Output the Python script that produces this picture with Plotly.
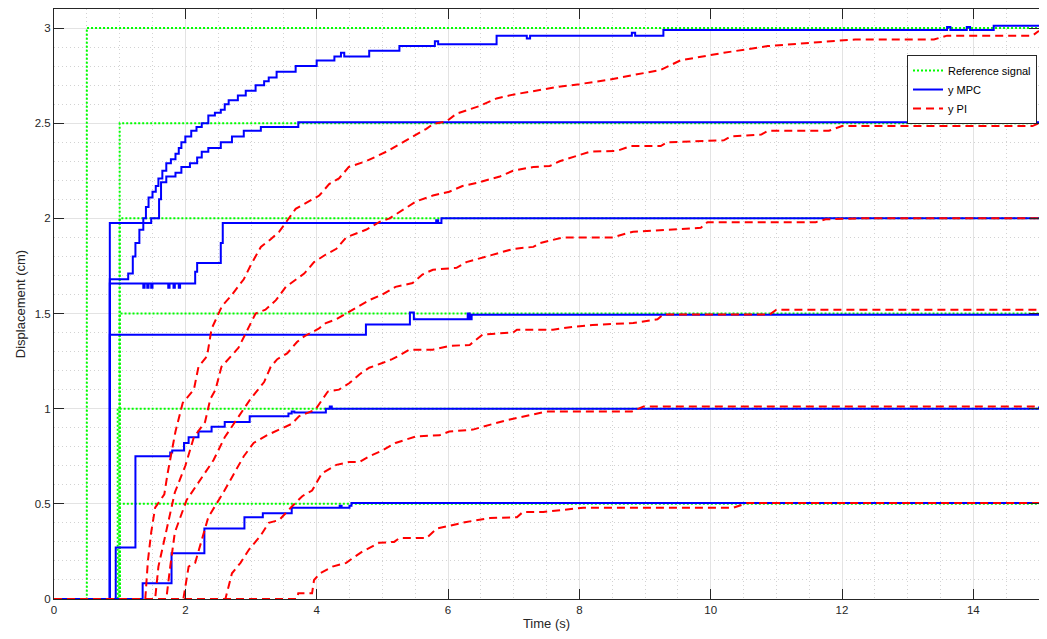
import plotly.graph_objects as go

# ---------------- data ----------------
ref_levels = [3.0, 2.5, 2.0, 1.5, 1.0, 0.5]
ref_step_times = [0.5, 1.0, 1.0, 1.0, 0.97, 1.0]
t_end = 15.0

# MPC responses (staircase, value holds from t[i])
mpc_3_t = [0, 0.85, 1.13, 1.2, 1.24, 1.3, 1.36, 1.4, 1.44, 1.5, 1.55, 1.59, 1.65, 1.71, 1.78, 1.85, 1.9, 1.94, 2.0,
           2.09, 2.17, 2.25, 2.35, 2.45, 2.54, 2.6, 2.66, 2.8, 2.92, 3.07, 3.2, 3.27, 3.39, 3.68, 4.0, 4.27, 4.37,
           4.42, 4.8, 5.26, 5.8, 5.85, 6.74, 7.2, 7.25, 8.8, 8.85, 9.28, 13.6, 13.65, 13.9, 13.95, 14.31, 15]
mpc_3_y = [0, 1.68, 1.71, 1.80, 1.87, 1.94, 2.0, 2.06, 2.11, 2.14, 2.17, 2.21, 2.25, 2.29, 2.31, 2.34, 2.37, 2.40, 2.43,
           2.46, 2.48, 2.50, 2.54, 2.555, 2.57, 2.60, 2.62, 2.645, 2.67, 2.70, 2.72, 2.74, 2.77, 2.80, 2.83, 2.85, 2.87,
           2.85, 2.88, 2.905, 2.93, 2.915, 2.96, 2.945, 2.96, 2.975, 2.96, 2.99, 3.005, 2.99, 3.005, 2.99, 3.012, 3.012]

mpc_25_t = [0, 0.85, 1.48, 1.6, 1.63, 1.71, 1.85, 1.94, 2.07, 2.18, 2.25, 2.35, 2.54, 2.71, 2.89, 3.15, 3.72, 15]
mpc_25_y = [0, 1.975, 2.0, 2.10, 2.19, 2.22, 2.24, 2.27, 2.29, 2.32, 2.35, 2.37, 2.40, 2.43, 2.46, 2.48, 2.505, 2.505]

mpc_2_t = [0, 0.85, 1.36, 1.38, 1.42, 1.44, 1.48, 1.5, 1.74, 1.76, 1.82, 1.84, 1.9, 1.92, 2.15, 2.18, 2.54, 2.57,
           5.82, 5.85, 5.9, 15]
mpc_2_y = [0, 1.658, 1.635, 1.658, 1.635, 1.658, 1.635, 1.658, 1.635, 1.658, 1.635, 1.658, 1.635, 1.658, 1.72, 1.765,
           1.87, 1.975, 1.99, 1.975, 2.0, 2.0]

mpc_15_t = [0, 0.85, 4.75, 5.42, 5.48, 6.3, 6.33, 6.36, 15]
mpc_15_y = [0, 1.389, 1.442, 1.505, 1.47, 1.5, 1.47, 1.493, 1.493]

mpc_1_t = [0, 0.94, 1.24, 1.77, 1.8, 1.98, 2.05, 2.2, 2.4, 2.6, 2.98, 3.57, 3.62, 3.66, 4.14, 4.2, 4.23, 15]
mpc_1_y = [0, 0.27, 0.75, 0.77, 0.78, 0.82, 0.85, 0.88, 0.905, 0.93, 0.96, 0.975, 0.985, 0.98, 1.0, 1.012, 1.0, 1.012]

mpc_05_t = [0, 1.35, 1.79, 2.29, 2.9, 3.18, 3.62, 4.35, 4.38, 4.5, 4.53, 15]
mpc_05_y = [0, 0.083, 0.24, 0.37, 0.43, 0.45, 0.48, 0.49, 0.48, 0.49, 0.505, 0.505]

# PI responses
pi_3_t = [0, 1.39, 1.43, 1.48, 1.54, 1.68, 1.73, 1.79, 1.85, 1.96, 2.13, 2.2, 2.33, 2.4, 2.56, 2.69, 2.89, 2.99,
          3.15, 3.3, 3.43, 3.68, 3.88, 4.04, 4.19, 4.34, 4.49, 4.75, 5.06, 5.36, 5.67, 5.77, 5.98, 6.13, 6.48, 6.74,
          6.99, 7.66, 8.0, 8.47, 9.24, 9.54, 10.2, 10.87, 11.6, 12.2, 13.4, 13.6, 14.9, 15]
pi_3_y = [0, 0, 0.2, 0.35, 0.48, 0.55, 0.66, 0.78, 0.88, 1.03, 1.10, 1.22, 1.275, 1.42, 1.54, 1.59, 1.68, 1.75,
          1.85, 1.89, 1.93, 2.05, 2.09, 2.12, 2.18, 2.21, 2.27, 2.30, 2.35, 2.41, 2.47, 2.495, 2.51, 2.55, 2.59, 2.63,
          2.65, 2.69, 2.705, 2.73, 2.78, 2.83, 2.87, 2.905, 2.925, 2.94, 2.94, 2.96, 2.96, 2.985]

pi_25_t = [0, 1.54, 1.59, 1.72, 1.84, 2.0, 2.13, 2.3, 2.38, 2.46, 2.55, 2.81, 2.94, 3.07, 3.22, 3.38, 3.53, 3.81,
           3.96, 4.14, 4.3, 4.45, 4.75, 4.95, 5.11, 5.37, 5.52, 5.77, 6.02, 6.22, 6.48, 6.79, 6.99, 7.3, 7.55, 7.7,
           7.97, 8.16, 8.58, 8.78, 9.24, 9.34, 10.2, 10.3, 10.77, 10.87, 11.8, 12.0, 14.9, 15]
pi_25_y = [0, 0, 0.17, 0.38, 0.56, 0.70, 0.85, 0.93, 1.05, 1.10, 1.22, 1.32, 1.41, 1.50, 1.52, 1.57, 1.64, 1.71,
           1.77, 1.81, 1.84, 1.90, 1.94, 1.98, 2.0, 2.06, 2.09, 2.12, 2.14, 2.17, 2.19, 2.22, 2.25, 2.27, 2.275, 2.30,
           2.33, 2.35, 2.355, 2.38, 2.38, 2.40, 2.41, 2.43, 2.44, 2.46, 2.46, 2.485, 2.485, 2.5]

pi_2_t = [0, 1.71, 1.77, 1.84, 2.02, 2.25, 2.43, 2.6, 2.8, 2.99, 3.2, 3.3, 3.4, 3.55, 3.7, 3.81, 4.03, 4.14, 4.3,
          4.4, 4.55, 4.8, 5.0, 5.2, 5.46, 5.61, 5.77, 6.13, 6.28, 6.48, 6.79, 7.0, 7.3, 7.4, 7.75, 8.5, 8.82, 9.34,
          9.85, 9.95, 11.6, 11.75, 12.3, 15]
pi_2_y = [0, 0, 0.17, 0.35, 0.52, 0.64, 0.73, 0.85, 0.95, 1.05, 1.14, 1.22, 1.26, 1.29, 1.35, 1.38, 1.42, 1.45, 1.47,
          1.49, 1.52, 1.57, 1.60, 1.64, 1.66, 1.705, 1.73, 1.74, 1.77, 1.79, 1.82, 1.84, 1.85, 1.87, 1.90, 1.90, 1.93,
          1.94, 1.95, 1.98, 1.98, 1.995, 2.0, 2.0]

pi_15_t = [0, 1.97, 2.05, 2.15, 2.25, 2.35, 2.58, 2.74, 2.89, 3.04, 3.24, 3.62, 3.73, 3.98, 4.17, 4.34, 4.5, 4.65,
           4.8, 5.0, 5.15, 5.26, 5.41, 5.77, 6.02, 6.33, 6.53, 6.99, 7.05, 7.6, 7.9, 8.2, 8.82, 9.19, 9.28, 10.9, 11.0, 15]
pi_15_y = [0, 0, 0.17, 0.19, 0.31, 0.43, 0.56, 0.66, 0.75, 0.82, 0.86, 0.92, 0.96, 0.995, 1.09, 1.10, 1.135, 1.18,
           1.215, 1.24, 1.26, 1.28, 1.31, 1.31, 1.33, 1.335, 1.39, 1.40, 1.415, 1.415, 1.43, 1.44, 1.45, 1.47, 1.495,
           1.495, 1.52, 1.52]

pi_1_t = [0, 2.61, 2.71, 2.84, 2.97, 3.14, 3.27, 3.43, 3.62, 3.78, 3.93, 4.08, 4.3, 4.5, 4.65, 4.8, 5.0, 5.2, 5.52,
          5.87, 6.02, 6.38, 6.53, 6.9, 7.3, 7.5, 8.8, 8.98, 15]
pi_1_y = [0, 0, 0.135, 0.19, 0.26, 0.33, 0.40, 0.415, 0.485, 0.54, 0.57, 0.66, 0.705, 0.72, 0.72, 0.75, 0.78, 0.82,
          0.855, 0.86, 0.88, 0.89, 0.905, 0.94, 0.97, 0.985, 0.985, 1.012, 1.012]

pi_05_t = [0, 3.7, 3.72, 3.93, 3.96, 4.05, 4.24, 4.45, 4.55, 4.7, 4.95, 5.18, 5.26, 5.67, 5.83, 6.07, 6.28, 6.64,
           7.05, 7.14, 7.45, 8.06, 10.35, 10.56, 15]
pi_05_y = [0, 0, 0.03, 0.03, 0.1, 0.135, 0.17, 0.19, 0.215, 0.25, 0.295, 0.30, 0.32, 0.32, 0.37, 0.39, 0.405, 0.425,
           0.43, 0.457, 0.457, 0.48, 0.48, 0.505, 0.505]

mpc_series = [(mpc_3_t, mpc_3_y), (mpc_25_t, mpc_25_y), (mpc_2_t, mpc_2_y),
              (mpc_15_t, mpc_15_y), (mpc_1_t, mpc_1_y), (mpc_05_t, mpc_05_y)]
pi_series = [(pi_3_t, pi_3_y), (pi_25_t, pi_25_y), (pi_2_t, pi_2_y),
             (pi_15_t, pi_15_y), (pi_1_t, pi_1_y), (pi_05_t, pi_05_y)]

# ---------------- figure ----------------
GREEN = "rgb(0,255,0)"
BLUE = "rgb(0,0,255)"
RED = "rgb(255,0,0)"
AX = "#262626"
FONT = "Liberation Sans, Arial, Helvetica, sans-serif"

fig = go.Figure()

for i, (lvl, ts) in enumerate(zip(ref_levels, ref_step_times)):
    fig.add_trace(go.Scatter(
        x=[0, ts, t_end], y=[0, lvl, lvl], mode="lines", line_shape="hv",
        line=dict(color=GREEN, width=2, dash="2px,2px"),
        name="Reference signal", legendgroup="ref", showlegend=(i == 0),
        hoverinfo="skip"))

for i, (tt, yy) in enumerate(mpc_series):
    fig.add_trace(go.Scatter(
        x=tt, y=yy, mode="lines", line_shape="hv",
        line=dict(color=BLUE, width=2),
        name="y MPC", legendgroup="mpc", showlegend=(i == 0), hoverinfo="skip"))

for i, (tt, yy) in enumerate(pi_series):
    fig.add_trace(go.Scatter(
        x=tt, y=yy, mode="lines",
        line=dict(color=RED, width=2, dash="8px,5px"),
        name="y PI", legendgroup="pi", showlegend=(i == 0), hoverinfo="skip"))

axis_common = dict(
    showline=True, linecolor=AX, linewidth=1, mirror="ticks",
    ticks="inside", ticklen=10, tickcolor=AX, tickwidth=1,
    showgrid=True, gridcolor="#e3e3e3", gridwidth=1,
    zeroline=False,
    tickfont=dict(family=FONT, size=11.5, color=AX),
    title_font=dict(family=FONT, size=13, color=AX),
)

fig.update_xaxes(
    range=[0, 15], tickmode="array", tickvals=[0, 2, 4, 6, 8, 10, 12, 14],
    ticktext=["0", "2", "4", "6", "8", "10", "12", "14"],
    minor=dict(tickmode="array", tickvals=[i * 0.5 for i in range(31)], showgrid=True,
               gridcolor="#d2d2d2", griddash="1px,3px", gridwidth=1, ticks=""),
    title=dict(text="Time (s)", standoff=7),
    **axis_common)

fig.update_yaxes(
    range=[0, 3.1], tickmode="array", tickvals=[0, 0.5, 1, 1.5, 2, 2.5, 3],
    ticktext=["0", "0.5", "1", "1.5", "2", "2.5", "3"],
    minor=dict(tickmode="array", tickvals=[i * 0.1 for i in range(32)], showgrid=True,
               gridcolor="#d2d2d2", griddash="1px,3px", gridwidth=1, ticks=""),
    title=dict(text="Displacement (cm)", standoff=6),
    **axis_common)

fig.update_layout(
    width=1031, height=623,
    margin=dict(l=46, r=0, t=1, b=32),
    plot_bgcolor="white", paper_bgcolor="white",
    font=dict(family=FONT, color=AX),
    legend=dict(
        x=0.866, y=0.922, xanchor="left", yanchor="top",
        bgcolor="white", bordercolor=AX, borderwidth=1,
        font=dict(family=FONT, size=11, color="black"),
        itemwidth=30, tracegroupgap=0),
    showlegend=True,
)

fig.write_html("out.html")
